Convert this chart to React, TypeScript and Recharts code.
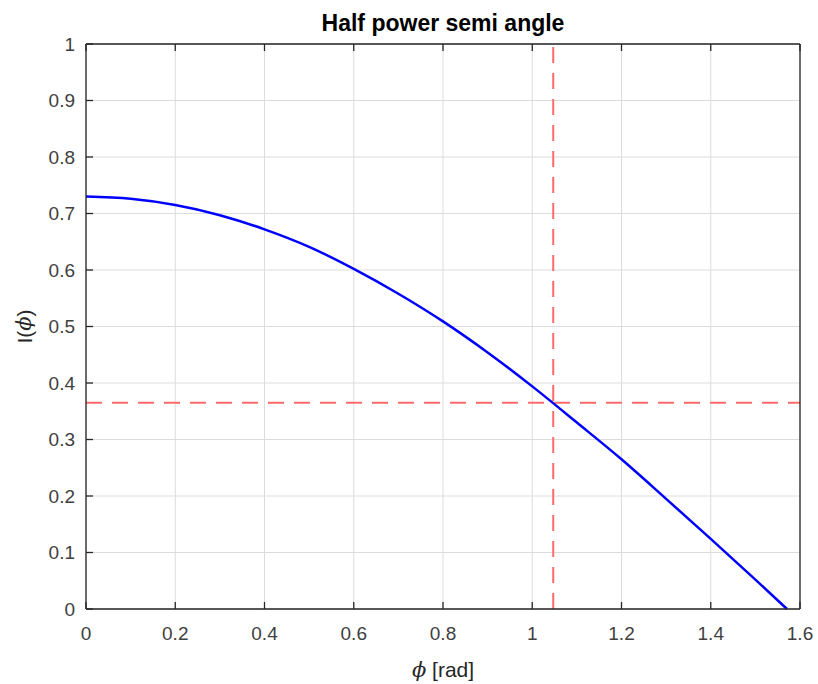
import { LineChart, Line, XAxis, YAxis, CartesianGrid, ReferenceLine, Label } from "recharts";

// phi [rad] and relative intensity
const phi = [0, 0.1, 0.2, 0.3, 0.4, 0.5, 0.6, 0.7, 0.8, 0.9, 1.0, 1.1, 1.2, 1.3, 1.4, 1.5, 1.5708];
const intensity = [
  0.73, 0.726, 0.715, 0.697, 0.672, 0.641, 0.602, 0.558, 0.509, 0.454, 0.394, 0.33, 0.265, 0.195,
  0.124, 0.052, 0,
];
const xTicks = [0, 0.2, 0.4, 0.6, 0.8, 1, 1.2, 1.4, 1.6];
const yTicks = [0, 0.1, 0.2, 0.3, 0.4, 0.5, 0.6, 0.7, 0.8, 0.9, 1];
const halfAngle = 1.047;
const halfPower = 0.365;

const data = phi.map((p, i) => ({ phi: p, I: intensity[i] }));

const axisColor = "#262626";
const sans = "'Liberation Sans', Arial, sans-serif";
const tickStyle = { fontSize: 19, fill: "#404040", fontFamily: sans };
const fmt = (v: number) => `${v}`;
const blank = () => "";

const renderTitle = (props: any) => {
  const vb = props.viewBox;
  return (
    <text
      x={vb.x + vb.width / 2}
      y={vb.y - 12}
      textAnchor="middle"
      fontSize={23}
      fontWeight="bold"
      fontFamily={sans}
      fill="#000"
    >
      Half power semi angle
    </text>
  );
};

const renderXLabel = (props: any) => {
  const vb = props.viewBox;
  return (
    <text x={vb.x + vb.width / 2} y={vb.y + 68} textAnchor="middle" fontSize={21} fontFamily={sans} fill="#262626">
      <tspan fontFamily="'DejaVu Serif', serif" fontStyle="italic">ϕ</tspan> [rad]
    </text>
  );
};

const renderYLabel = (props: any) => {
  const vb = props.viewBox;
  const cx = vb.x + 24;
  const cy = vb.y + vb.height / 2;
  return (
    <text
      x={cx}
      y={cy}
      transform={`rotate(-90 ${cx} ${cy})`}
      textAnchor="middle"
      dominantBaseline="central"
      fontSize={21}
      fontFamily={sans}
      fill="#262626"
    >
      I(<tspan fontFamily="'DejaVu Serif', serif" fontStyle="italic">ϕ</tspan>)
    </text>
  );
};

export default function App() {
  return (
    <div style={{ position: "absolute", left: 0, top: 0, background: "#fff" }}>
      <LineChart width={818} height={684} data={data} margin={{ top: 43, right: 17, bottom: 0, left: 0 }}>
        <CartesianGrid xAxisId="b" yAxisId="l" stroke="#dcdcdc" strokeWidth={1} />
        <XAxis
          xAxisId="b"
          dataKey="phi"
          type="number"
          domain={[0, 1.6]}
          ticks={xTicks}
          tickFormatter={fmt}
          height={75}
          tickSize={-7}
          tickMargin={25}
          tick={tickStyle}
          axisLine={{ stroke: axisColor, strokeWidth: 1.3 }}
          tickLine={{ stroke: axisColor, strokeWidth: 1.3 }}
        >
          <Label content={renderXLabel} />
        </XAxis>
        <XAxis
          xAxisId="t"
          orientation="top"
          dataKey="phi"
          type="number"
          domain={[0, 1.6]}
          ticks={xTicks}
          tickFormatter={blank}
          height={1}
          tickSize={-7}
          tickMargin={0}
          axisLine={{ stroke: axisColor, strokeWidth: 1.3 }}
          tickLine={{ stroke: axisColor, strokeWidth: 1.3 }}
        >
          <Label content={renderTitle} />
        </XAxis>
        <YAxis
          yAxisId="l"
          type="number"
          domain={[0, 1]}
          ticks={yTicks}
          tickFormatter={fmt}
          width={86}
          tickSize={-7}
          tickMargin={18}
          tick={tickStyle}
          axisLine={{ stroke: axisColor, strokeWidth: 1.3 }}
          tickLine={{ stroke: axisColor, strokeWidth: 1.3 }}
        >
          <Label content={renderYLabel} />
        </YAxis>
        <YAxis
          yAxisId="r"
          orientation="right"
          type="number"
          domain={[0, 1]}
          ticks={yTicks}
          tickFormatter={blank}
          width={1}
          tickSize={-7}
          tickMargin={0}
          axisLine={{ stroke: axisColor, strokeWidth: 1.3 }}
          tickLine={{ stroke: axisColor, strokeWidth: 1.3 }}
        />
        <ReferenceLine xAxisId="b" yAxisId="l" x={halfAngle} stroke="#ff6b6b" strokeWidth={2} strokeDasharray="16 10" />
        <ReferenceLine xAxisId="b" yAxisId="l" y={halfPower} stroke="#ff6b6b" strokeWidth={2} strokeDasharray="16 10" />
        <Line
          xAxisId="b"
          yAxisId="l"
          type="monotone"
          dataKey="I"
          stroke="#0000ff"
          strokeWidth={2.5}
          dot={false}
          isAnimationActive={false}
        />
      </LineChart>
    </div>
  );
}
